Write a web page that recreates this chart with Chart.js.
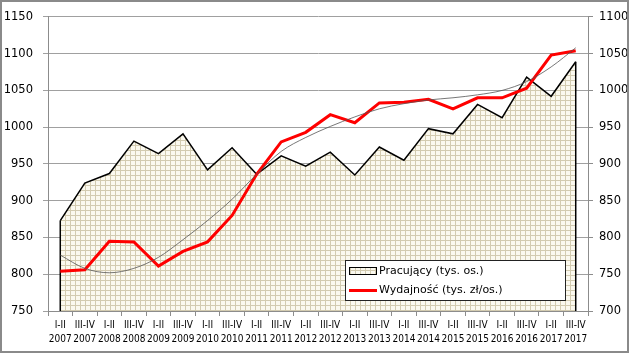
<!DOCTYPE html>
<html><head><meta charset="utf-8">
<script src="https://cdn.jsdelivr.net/npm/chart.js@4.4.1/dist/chart.umd.min.js"></script>
<style>html,body{margin:0;padding:0;background:#fff;}#wrap{width:630px;height:355px;position:relative;}</style>
</head><body><div id="wrap"><canvas id="c" width="630" height="355"></canvas></div>
<script>
const periods = ['I-II','III-IV','I-II','III-IV','I-II','III-IV','I-II','III-IV','I-II','III-IV','I-II','III-IV','I-II','III-IV','I-II','III-IV','I-II','III-IV','I-II','III-IV','I-II','III-IV'];
const years = ['2007','2007','2008','2008','2009','2009','2010','2010','2011','2011','2012','2012','2013','2013','2014','2014','2015','2015','2016','2016','2017','2017'];
const pracujacy = [873, 924, 937, 981, 964, 991, 942, 972, 936, 961, 947, 966, 935, 973, 955, 998, 991, 1031, 1013, 1068, 1042, 1089];
const wydajnosc = [754, 756, 795, 794, 761, 781, 794, 830, 886, 930, 943, 967, 956, 983, 984, 988, 975, 990, 990, 1003, 1048, 1054];
const trendWydajnosc = [776, 758, 752, 758, 773, 797, 823, 852, 886, 917, 936, 951, 964, 975, 982, 987, 990, 994, 1000, 1012, 1032, 1058];
const seriesNames = ['Pracujący (tys. os.)', 'Wydajność (tys. zł/os.)'];
const leftMin = 750, leftMax = 1150, rightMin = 700, rightMax = 1100, tickStep = 50;

const canvas = document.getElementById('c');
const ctx0 = canvas.getContext('2d');
function makePattern(){
  const p = document.createElement('canvas'); p.width = 5; p.height = 5;
  const g = p.getContext('2d');
  g.fillStyle = '#fbf9ef'; g.fillRect(0,0,5,5);
  g.fillStyle = '#d3cbb0'; g.fillRect(0,0,5,1); g.fillRect(0,0,1,5);
  return ctx0.createPattern(p, 'repeat');
}
const pattern = makePattern();
const labels = periods.map((p,i) => [p, years[i]]);
const axisGrey = '#8c8c8c';

const edgesPlugin = {
  id: 'edges',
  afterDatasetDraw(chart, args) {
    if (args.index !== 0) return;
    const meta = chart.getDatasetMeta(0);
    const ctx = chart.ctx, bottom = chart.chartArea.bottom;
    const first = meta.data[0], last = meta.data[meta.data.length-1];
    ctx.save();
    ctx.strokeStyle = '#000'; ctx.lineWidth = 1.5;
    ctx.beginPath();
    ctx.moveTo(first.x, first.y); ctx.lineTo(first.x, bottom);
    ctx.moveTo(last.x, last.y); ctx.lineTo(last.x, bottom);
    ctx.stroke();
    ctx.restore();
  }
};
const legendPlugin = {
  id: 'customLegend',
  afterDraw(chart) {
    const ctx = chart.ctx;
    ctx.save();
    const bx = 345.5, by = 260.5, bw = 220, bh = 40;
    ctx.fillStyle = '#fff'; ctx.fillRect(bx, by, bw, bh);
    ctx.strokeStyle = '#222'; ctx.lineWidth = 1; ctx.strokeRect(bx, by, bw, bh);
    ctx.fillStyle = pattern; ctx.fillRect(349.5, 267.5, 27, 7);
    ctx.strokeStyle = '#000'; ctx.strokeRect(349.5, 267.5, 27, 7);
    ctx.strokeStyle = '#ff0000'; ctx.lineWidth = 3;
    ctx.beginPath(); ctx.moveTo(349, 290.5); ctx.lineTo(377, 290.5); ctx.stroke();
    ctx.fillStyle = '#000'; ctx.font = '11px "DejaVu Sans"'; ctx.textBaseline = 'middle'; ctx.textAlign = 'left';
    ctx.fillText(chart.data.datasets[0].label, 379, 271);
    ctx.fillText(chart.data.datasets[1].label, 379, 290.5);
    ctx.strokeStyle = '#8a8a8a'; ctx.lineWidth = 2;
    ctx.strokeRect(1, 1, 627, 351);
    ctx.restore();
  }
};

new Chart(canvas, {
  type: 'line',
  data: {
    labels: labels,
    datasets: [
      { label: seriesNames[0], data: pracujacy, yAxisID: 'y', order: 2, fill: 'start',
        backgroundColor: pattern, borderColor: '#000', borderWidth: 1.5, pointRadius: 0, tension: 0 },
      { label: seriesNames[1], data: wydajnosc, yAxisID: 'y2', order: 1, fill: false,
        borderColor: '#ff0000', borderWidth: 3, pointRadius: 0, tension: 0 },
      { label: 'trend', data: trendWydajnosc, yAxisID: 'y2', order: 0, fill: false,
        borderColor: '#555', borderWidth: 0.8, pointRadius: 0, cubicInterpolationMode: 'monotone' }
    ]
  },
  options: {
    responsive: false, animation: false, devicePixelRatio: 1,
    layout: { padding: { top: 8, left: 0, right: 0, bottom: 0 } },
    plugins: { legend: { display: false }, tooltip: { enabled: false } },
    scales: {
      x: {
        offset: true,
        grid: { drawOnChartArea: false, drawTicks: true, tickLength: 5, color: axisGrey, offset: true },
        border: { display: true, color: axisGrey },
        ticks: { autoSkip: false, maxRotation: 0, minRotation: 0, padding: 3, color: '#000',
          font: { family: '"DejaVu Sans Condensed", "Liberation Sans"', size: 10, lineHeight: 1.33 } },
        afterFit(s) { s.height = 44; }
      },
      y: {
        position: 'left', min: leftMin, max: leftMax,
        ticks: { stepSize: tickStep, padding: 10, color: '#000', font: { family: '"DejaVu Sans"', size: 11.5 },
          callback: v => String(v) },
        grid: { color: '#a0a0a0', tickLength: 5, drawTicks: true },
        border: { display: true, color: axisGrey },
        afterFit(s) { s.width = 48; }
      },
      y2: {
        position: 'right', min: rightMin, max: rightMax,
        ticks: { stepSize: tickStep, padding: 6, color: '#000', font: { family: '"DejaVu Sans"', size: 11.5 },
          callback: v => String(v) },
        grid: { drawOnChartArea: false, tickLength: 5, color: axisGrey },
        border: { display: true, color: axisGrey },
        afterFit(s) { s.width = 42; }
      }
    }
  },
  plugins: [edgesPlugin, legendPlugin]
});
</script></body></html>
